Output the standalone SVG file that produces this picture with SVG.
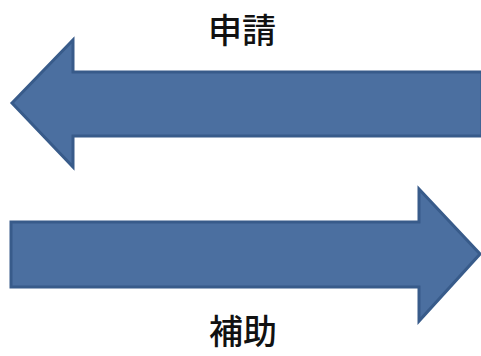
<svg xmlns="http://www.w3.org/2000/svg" width="481" height="356" viewBox="0 0 481 356">
<style>
.arrow{fill:#4b6fa0;stroke:#385b8a;stroke-width:3;stroke-linejoin:miter}
.lbl{font-family:"Noto Sans CJK JP","Noto Sans CJK SC",sans-serif;font-size:34px;font-weight:500;fill:#111;text-anchor:middle}
</style>
<rect width="481" height="356" fill="#ffffff"/>
<g id="connectors">
<polygon id="arrow-left" class="arrow" points="12,103 73,40 73,72 482,72 482,136 73,136 73,167"/>
<polygon id="arrow-right" class="arrow" points="11,222 419,222 419,189 480,254 419,321 419,287 11,287"/>
</g>
<g id="label-top"><text class="lbl" x="242" y="43">申請</text></g>
<g id="label-bottom"><text class="lbl" x="243" y="344">補助</text></g>
</svg>
